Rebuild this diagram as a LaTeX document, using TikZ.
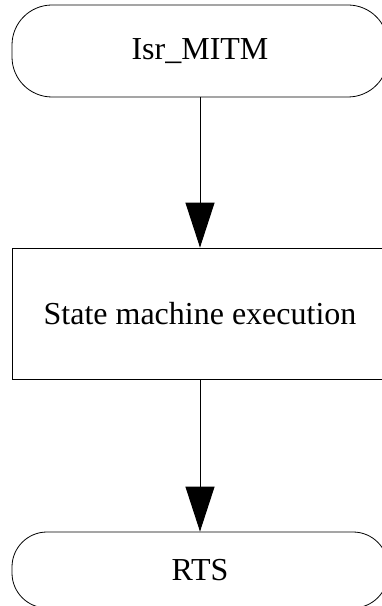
\documentclass[tikz,border=0pt]{standalone}
\usepackage{fontspec}
\setmainfont{Liberation Serif}
\usetikzlibrary{arrows.meta}

\begin{document}
\begin{tikzpicture}[x=0.5pt,y=0.5pt,
  terminal/.style={draw,rounded corners=20pt,minimum width=188pt,inner sep=0pt},
  process/.style={draw,minimum width=188pt,minimum height=65.5pt,inner sep=0pt},
  flow/.style={-{Triangle[length=22.5pt,width=14.5pt]},line width=0.5pt}]
\fontsize{16}{19}\selectfont
\useasboundingbox (0,0) rectangle (381,606);
% start, step and end
\node[terminal,minimum height=46pt] (isr) at (200,555) {Isr\_MITM};
\node[process] (sme) at (200,292.5) {State machine execution};
\node[terminal,minimum height=38pt,rounded corners=17.5pt] (rts) at (200,36) {RTS};
% flow
\draw[flow] (isr) -- (sme);
\draw[flow] (sme) -- (rts);
\end{tikzpicture}
\end{document}
